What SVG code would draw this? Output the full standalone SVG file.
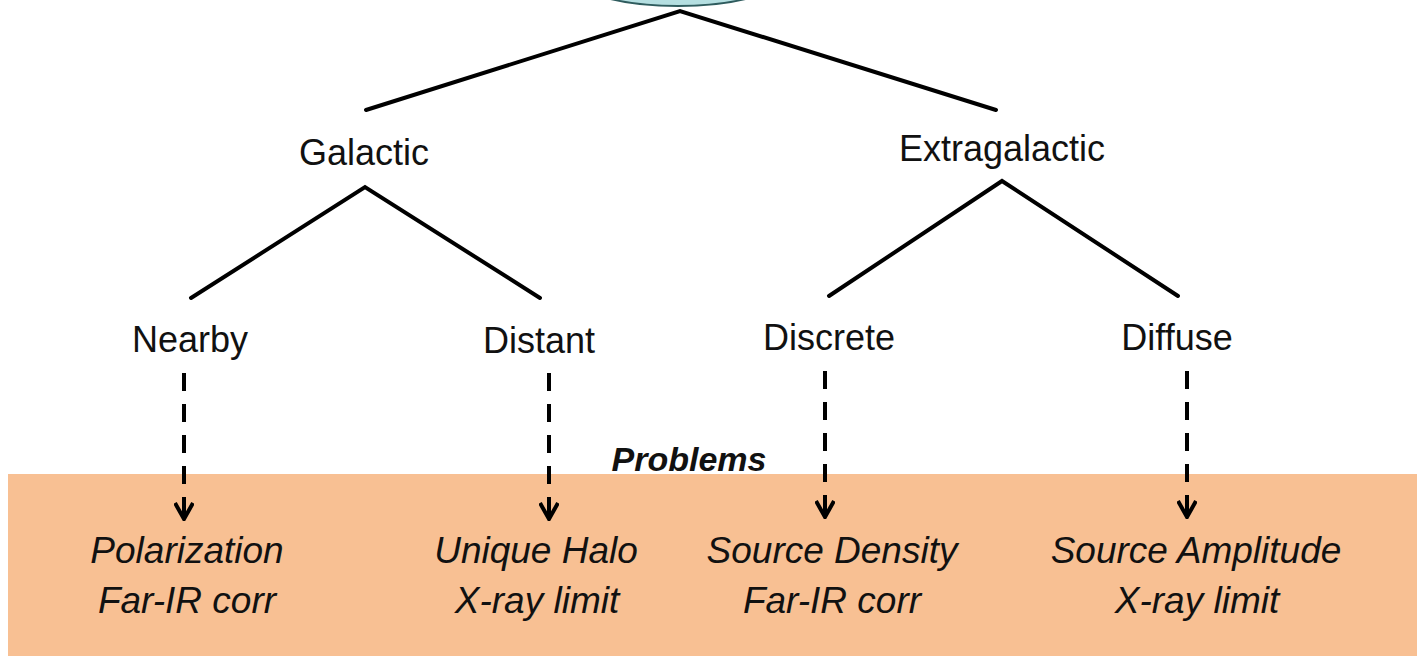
<svg xmlns="http://www.w3.org/2000/svg" width="1417" height="656" viewBox="0 0 1417 656">
<defs>
<style>
.lbl{font-family:"Liberation Sans",Arial,sans-serif;font-size:36px;fill:#111;text-anchor:middle}
.prob{font-family:"Liberation Sans",Arial,sans-serif;font-size:37px;font-style:italic;fill:#111;text-anchor:middle}
.hdr{font-family:"Liberation Sans",Arial,sans-serif;font-size:34px;font-style:italic;font-weight:bold;fill:#111;text-anchor:middle}
.tree{stroke:#000;stroke-width:4;fill:none;stroke-linecap:round;stroke-linejoin:miter}
.dash{stroke:#000;stroke-width:4;fill:none;stroke-dasharray:18 13}
</style>
<marker id="arr" viewBox="0 0 20 20" refX="18" refY="10" markerWidth="20" markerHeight="20" markerUnits="userSpaceOnUse" orient="auto">
<path d="M2,1 L18,10 L2,19 M2,10 L18,10" fill="none" stroke="#000" stroke-width="4"/>
</marker>
</defs>
<rect x="0" y="0" width="1417" height="656" fill="#fff"/>
<rect id="problems-band" x="8" y="474" width="1409" height="182" fill="#F8C093"/>
<g id="root"><ellipse cx="678" cy="-22" rx="102" ry="28" fill="#B5DFE1" stroke="#2F5C5E" stroke-width="2"/></g>
<g id="connectors">
<polyline class="tree" points="366,110 680,11 996,110"/>
<polyline class="tree" points="191,298 365,187 540,298"/>
<polyline class="tree" points="829,296 1002,181 1178,296"/>
<line class="dash" x1="184" y1="373" x2="184" y2="519" marker-end="url(#arr)"/>
<line class="dash" x1="549" y1="373" x2="549" y2="519" marker-end="url(#arr)"/>
<line class="dash" x1="825" y1="371" x2="825" y2="517" marker-end="url(#arr)"/>
<line class="dash" x1="1187" y1="371" x2="1187" y2="517" marker-end="url(#arr)"/>
</g>
<g id="galactic"><text class="lbl" x="364" y="165">Galactic</text></g>
<g id="extragalactic"><text class="lbl" x="1002" y="161">Extragalactic</text></g>
<g id="nearby"><text class="lbl" x="190" y="352">Nearby</text></g>
<g id="distant"><text class="lbl" x="539" y="353">Distant</text></g>
<g id="discrete"><text class="lbl" x="829" y="350">Discrete</text></g>
<g id="diffuse"><text class="lbl" x="1177" y="350">Diffuse</text></g>
<g id="problems-title"><text class="hdr" x="689" y="471">Problems</text></g>
<g id="p-nearby"><text class="prob" x="187" y="563">Polarization</text><text class="prob" x="187" y="613">Far-IR corr</text></g>
<g id="p-distant"><text class="prob" x="536" y="563">Unique Halo</text><text class="prob" x="537" y="613">X-ray limit</text></g>
<g id="p-discrete"><text class="prob" x="832" y="563">Source Density</text><text class="prob" x="832" y="613">Far-IR corr</text></g>
<g id="p-diffuse"><text class="prob" x="1196" y="563">Source Amplitude</text><text class="prob" x="1197" y="613">X-ray limit</text></g>
</svg>
